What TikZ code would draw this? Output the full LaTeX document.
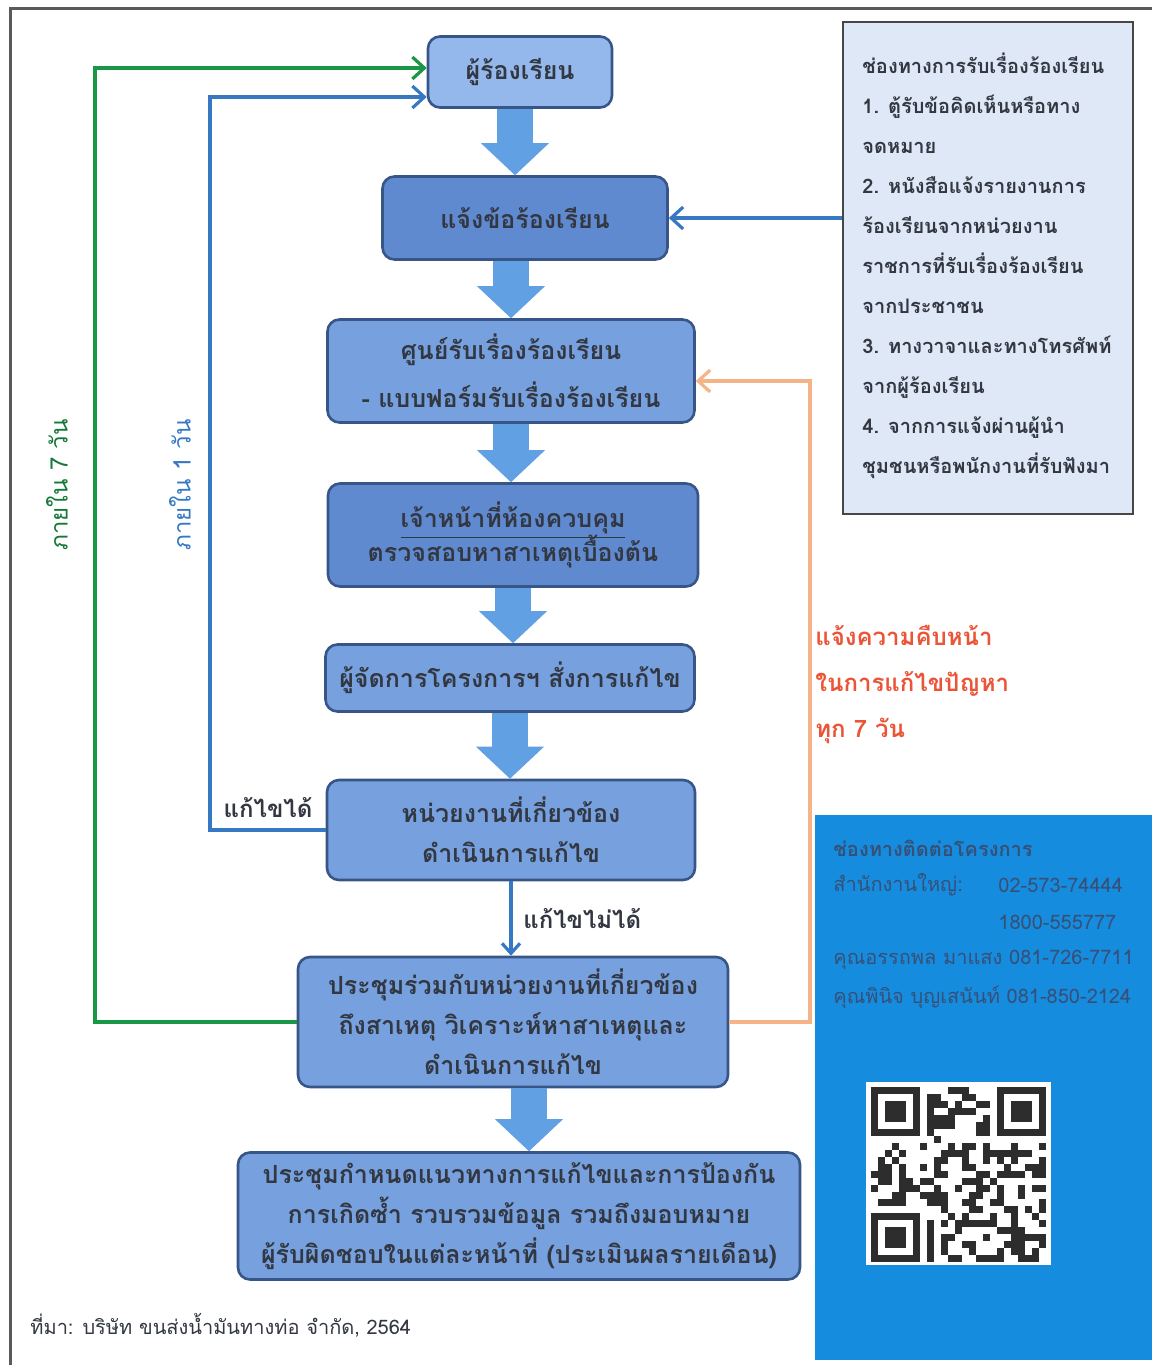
\documentclass[tikz,border=0pt]{standalone}
\usepackage{fontspec}
\usepackage{tikz}
\usetikzlibrary{arrows.meta}
\newfontfamily\thaifont[Script=Thai]{Loma}
\definecolor{boxfill}{RGB}{118,160,222}
\definecolor{boxdark}{RGB}{96,138,208}
\definecolor{boxlight}{RGB}{148,184,236}
\definecolor{boxedge}{RGB}{55,85,135}
\definecolor{boxtext}{RGB}{50,55,65}
\definecolor{blockblue}{RGB}{98,160,228}
\definecolor{linegreen}{RGB}{25,150,70}
\definecolor{lineblue}{RGB}{55,120,195}
\definecolor{lineorange}{RGB}{245,180,135}
\definecolor{notered}{RGB}{235,85,55}
\definecolor{infofill}{RGB}{222,232,246}
\definecolor{infoedge}{RGB}{70,70,70}
\definecolor{panelblue}{RGB}{22,140,222}
\definecolor{paneltext}{RGB}{55,80,120}
\definecolor{qrdark}{RGB}{45,45,45}
\definecolor{framegrey}{RGB}{90,90,90}

\begin{document}
\begin{tikzpicture}[x=0.5pt, y=-0.5pt,
    flowbox/.style={draw=boxedge, line width=1.3pt, rounded corners=6pt, fill=boxfill,
        text=boxtext, align=center, inner sep=2pt,
        font=\thaifont\bfseries\fontsize{12.5}{20}\selectfont},
    flowarrow/.style={blockblue, line width=18pt,
        -{Triangle[width=34pt,length=16pt,line width=0pt]}},
    loopline/.style={line width=1.6pt, -{Straight Barb[length=6pt,width=11pt]}},
    sidelabel/.style={font=\thaifont\fontsize{12}{14}\selectfont, rotate=90},
    infotext/.style={font=\thaifont\bfseries\fontsize{10}{20}\selectfont, text=boxtext, align=left, inner sep=0pt, anchor=west},
    paneltxt/.style={font=\thaifont\fontsize{10}{12}\selectfont, text=paneltext, inner sep=0pt, anchor=west}]
    \useasboundingbox (0,0) rectangle (1152,1365);

    % Frame
    \draw[framegrey, line width=1.5pt] (10,1365) -- (10,8) -- (1152,8);

    % Contact panel
    \fill[panelblue] (815,815) rectangle (1152,1360);

    % Flow boxes
    \node[flowbox, fill=boxlight, minimum width=92pt, minimum height=35.5pt] (b1) at (520,72) {ผู้ร้องเรียน};
    \node[flowbox, fill=boxdark, minimum width=142.5pt, minimum height=41.5pt] (b2) at (525,218) {แจ้งข้อร้องเรียน};
    \node[flowbox, minimum width=183.5pt, minimum height=51.5pt] (b3) at (511,371) {ศูนย์รับเรื่องร้องเรียน\\[4pt]- แบบฟอร์มรับเรื่องร้องเรียน};
    \node[flowbox, fill=boxdark, minimum width=185pt, minimum height=51.5pt] (b4) at (513,535) {\underline{เจ้าหน้าที่ห้องควบคุม}\\[-3pt]ตรวจสอบหาสาเหตุเบื้องต้น};
    \node[flowbox, minimum width=184.5pt, minimum height=33.5pt] (b5) at (510,678) {ผู้จัดการโครงการฯ สั่งการแก้ไข};
    \node[flowbox, minimum width=184pt, minimum height=50pt] (b6) at (511,830) {หน่วยงานที่เกี่ยวข้อง\\ดำเนินการแก้ไข};
    \node[flowbox, minimum width=215pt, minimum height=65pt] (b7) at (513,1022) {ประชุมร่วมกับหน่วยงานที่เกี่ยวข้อง\\ถึงสาเหตุ วิเคราะห์หาสาเหตุและ\\ดำเนินการแก้ไข};
    \node[flowbox, minimum width=281pt, minimum height=63.5pt] (b8) at (519,1216) {ประชุมกำหนดแนวทางการแก้ไขและการป้องกัน\\การเกิดซ้ำ รวบรวมข้อมูล รวมถึงมอบหมาย\\ผู้รับผิดชอบในแต่ละหน้าที่ (ประเมินผลรายเดือน)};

    % Block arrows
    \draw[flowarrow] ([xshift=-2.5pt]b1.south) -- ([xshift=-2.5pt]b1.south |- b2.north);
    \draw[flowarrow] (b2.south -| b3.north) -- (b3.north);
    \draw[flowarrow] (b3.south) -- (b3.south |- b4.north);
    \draw[flowarrow] (b4.south) -- (b4.south |- b5.north);
    \draw[flowarrow] (b5.south) -- (b5.south |- b6.north);
    \draw[flowarrow] ([xshift=8pt]b7.south) -- ([xshift=8pt]b7.south |- b8.north);

    % Cannot fix
    \draw[lineblue, line width=1.6pt, -{Straight Barb[length=5pt,width=9pt]}] (b6.south) -- (b6.south |- b7.north)
        node[midway, right=2pt, text=boxtext, font=\thaifont\bfseries\fontsize{12}{14}\selectfont] (nofix) {แก้ไขไม่ได้};

    % Loops back to complainant
    \coordinate (gcorner) at (95,68);
    \coordinate (bcorner) at (210,97);
    \coordinate (ocorner) at (810,381);
    \draw[loopline, linegreen] (b7.west) -| (gcorner) -- (gcorner -| b1.west);
    \draw[loopline, lineblue] (b6.west) -| (bcorner) -- (bcorner -| b1.west);
    \draw[loopline, lineorange] (b7.east) -| (ocorner) -- (ocorner -| b3.east);

    \node[sidelabel, text=linegreen!80!black] (in7) at (57,485) {ภายใน 7 วัน};
    \node[sidelabel, text=lineblue] (in1) at (180,485) {ภายใน 1 วัน};
    \node[font=\thaifont\bfseries\fontsize{12}{14}\selectfont, text=boxtext] (fixed) at (268,808) {แก้ไขได้};
    \node[font=\thaifont\bfseries\fontsize{12}{23}\selectfont, text=notered, align=left, anchor=west, inner sep=0pt] (progress) at (815,685) {แจ้งความคืบหน้า\\ในการแก้ไขปัญหา\\ทุก 7 วัน};

    % Channels box
    \node[draw=infoedge, line width=1.3pt, fill=infofill, minimum width=145pt, minimum height=246pt, inner sep=0pt] (info) at (988,268) {};
    \node[infotext] (infolines) at (862,266) {ช่องทางการรับเรื่องร้องเรียน\\1. ตู้รับข้อคิดเห็นหรือทาง\\จดหมาย\\2. หนังสือแจ้งรายงานการ\\ร้องเรียนจากหน่วยงาน\\ราชการที่รับเรื่องร้องเรียน\\จากประชาชน\\3. ทางวาจาและทางโทรศัพท์\\จากผู้ร้องเรียน\\4. จากการแจ้งผ่านผู้นำ\\ชุมชนหรือพนักงานที่รับฟังมา};
    \draw[loopline, lineblue] (info.west |- b2.east) -- (b2.east);

    % Contact text
    \node[paneltxt, font=\thaifont\bfseries\fontsize{10}{12}\selectfont] (ptitle) at (833,848) {ช่องทางติดต่อโครงการ};
    \node[paneltxt] (phq) at (833,885) {สำนักงานใหญ่:};
    \node[paneltxt] (phone1) at (998,885) {02-573-74444};
    \node[paneltxt] (phone2) at (998,922) {1800-555777};
    \node[paneltxt] (phone3) at (833,960) {คุณอรรถพล มาแสง 081-726-7711};
    \node[paneltxt] (phone4) at (833,997) {คุณพินิจ บุญเสนันท์ 081-850-2124};

    % QR code
    \fill[white] (866,1082) rectangle (1051,1265);
    \pgfmathsetseed{4217}
    \foreach \i in {0,...,24} {
        \foreach \j in {0,...,24} {
            \pgfmathtruncatemacro\qrbit{((\i<8 && \j<8) || (\i>16 && \j<8) || (\i<8 && \j>16)) ? 0 : (rnd<0.48 ? 1 : 0)}
            \ifnum\qrbit=1 \fill[qrdark] (871+7*\i,1087+7*\j) rectangle ++(7,7); \fi
        }
    }
    \foreach \fx/\fy in {0/0,18/0,0/18} {
        \fill[qrdark] (871+7*\fx,1087+7*\fy) rectangle ++(49,49);
        \fill[white] (878+7*\fx,1094+7*\fy) rectangle ++(35,35);
        \fill[qrdark] (885+7*\fx,1101+7*\fy) rectangle ++(21,21);
    }

    % Source
    \node[font=\thaifont\fontsize{10}{13}\selectfont, text=boxtext, anchor=west, inner sep=0pt] (source) at (30,1325) {ที่มา: บริษัท ขนส่งน้ำมันทางท่อ จำกัด, 2564};
\end{tikzpicture}
\end{document}
